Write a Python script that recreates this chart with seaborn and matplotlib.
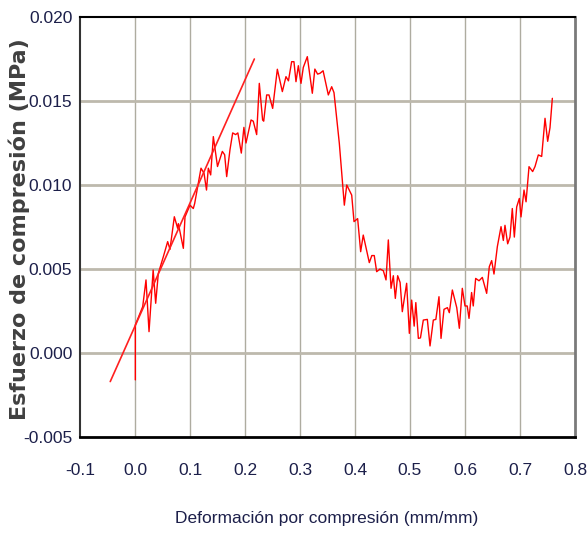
import numpy as np
import pandas as pd
import matplotlib
matplotlib.use("Agg")
import matplotlib.pyplot as plt
import seaborn as sns
from matplotlib.ticker import MultipleLocator, FormatStrFormatter

# --- data ---
strain = [0.0006, 0.0006, 0.014, 0.020, 0.0255, 0.033, 0.0376, 0.0424, 0.0515, 0.0594,
          0.0636, 0.0715, 0.0776, 0.0788, 0.0879, 0.0909, 0.100, 0.106, 0.1085, 0.120,
          0.1255, 0.130, 0.1333, 0.1376, 0.1424, 0.150, 0.1588, 0.163, 0.1667, 0.1727,
          0.1776, 0.183, 0.187, 0.1933, 0.198, 0.2018, 0.211, 0.215, 0.2212, 0.226,
          0.232, 0.234, 0.2394, 0.2436, 0.2503, 0.2588, 0.2679, 0.2745, 0.279, 0.2848,
          0.289, 0.2927, 0.297, 0.3018, 0.306, 0.3133, 0.3224, 0.327, 0.332, 0.3364,
          0.342, 0.3515, 0.3576, 0.3618, 0.3715, 0.3806, 0.385, 0.394, 0.3982, 0.4048,
          0.4103, 0.415, 0.426, 0.4306, 0.435, 0.4394, 0.4455, 0.4515, 0.4564, 0.4606,
          0.4655, 0.4697, 0.4733, 0.4776, 0.482, 0.486, 0.4939, 0.4988, 0.503, 0.5076,
          0.5106, 0.5152, 0.519, 0.5242, 0.5315, 0.5364, 0.5424, 0.547, 0.5527, 0.5564,
          0.5618, 0.568, 0.5715, 0.577, 0.585, 0.5897, 0.5951, 0.600, 0.604, 0.6073,
          0.612, 0.615, 0.6194, 0.6255, 0.6315, 0.6394, 0.6442, 0.6485, 0.6527, 0.6588,
          0.6655, 0.6697, 0.6727, 0.6776, 0.6818, 0.686, 0.6897, 0.694, 0.6988, 0.7018,
          0.7073, 0.711, 0.7164, 0.723, 0.7273, 0.7333, 0.7394, 0.7455, 0.7503, 0.7545,
          0.7588]
stress = [-0.0016, 0.00167, 0.00276, 0.00435, 0.00127, 0.00494, 0.00296, 0.00474, 0.00573, 0.00663,
          0.00617, 0.00811, 0.00742, 0.0077, 0.00623, 0.0081, 0.0088, 0.0086, 0.0089, 0.0110,
          0.0107, 0.0097, 0.0110, 0.0106, 0.01288, 0.0111, 0.0120, 0.0118, 0.0105, 0.0121,
          0.0131, 0.0130, 0.0131, 0.0119, 0.01343, 0.0125, 0.01387, 0.0138, 0.0130, 0.01605,
          0.01387, 0.0138, 0.01536, 0.01536, 0.01456, 0.01689, 0.01556, 0.01645, 0.0162, 0.01734,
          0.01734, 0.01615, 0.0171, 0.01605, 0.0170, 0.01764, 0.01546, 0.0169, 0.0166, 0.01665,
          0.0168, 0.01536, 0.01585, 0.0155, 0.01248, 0.0088, 0.0100, 0.0094, 0.00782, 0.0080,
          0.00603, 0.00702, 0.00538, 0.0058, 0.0058, 0.00484, 0.0050, 0.0049, 0.00435, 0.00673,
          0.00385, 0.0046, 0.00325, 0.0046, 0.0042, 0.00246, 0.00415, 0.00117, 0.00315, 0.0016,
          0.0030, 0.00087, 0.0009, 0.00196, 0.0020, 0.00042, 0.00196, 0.0020, 0.00335, 0.00087,
          0.0026, 0.0027, 0.0024, 0.00375, 0.0027, 0.00147, 0.00385, 0.0028, 0.0028, 0.00206,
          0.0036, 0.0028, 0.00444, 0.0043, 0.0045, 0.00355, 0.00514, 0.0055, 0.0047, 0.00633,
          0.00752, 0.0067, 0.0076, 0.0065, 0.0069, 0.0086, 0.0069, 0.0087, 0.0092, 0.0081,
          0.0097, 0.0090, 0.01109, 0.0108, 0.0111, 0.01179, 0.0117, 0.01397, 0.0126, 0.0134,
          0.01516]
fit_strain = [-0.045, 0.217]
fit_stress = [-0.0017, 0.0175]

x_ticks = [-0.1, 0.0, 0.1, 0.2, 0.3, 0.4, 0.5, 0.6, 0.7, 0.8]
y_ticks = [-0.005, 0.000, 0.005, 0.010, 0.015, 0.020]

sns.set_style("white")
plt.rcParams['font.family'] = ['Liberation Sans', 'DejaVu Sans']

fig = plt.figure(figsize=(5.88, 5.39), dpi=100)
ax = fig.add_axes([80/588, 1 - 437/539, 495/588, 420/539])

df = pd.DataFrame({"x": strain, "y": stress})
dff = pd.DataFrame({"x": fit_strain, "y": fit_stress})
sns.lineplot(data=df, x="x", y="y", sort=False, estimator=None, color="#ff0000",
             lw=1.0, ax=ax, zorder=3)
sns.lineplot(data=dff, x="x", y="y", sort=False, estimator=None, color="#ff2020",
             lw=1.2, ax=ax, zorder=3)

ax.set_xlim(-0.1, 0.8)
ax.set_ylim(-0.005, 0.020)
ax.set_xticks(x_ticks)
ax.set_yticks(y_ticks)
ax.xaxis.set_minor_locator(MultipleLocator(0.05))
ax.yaxis.set_minor_locator(MultipleLocator(0.0025))
ax.xaxis.set_major_formatter(FormatStrFormatter('%.1f'))
ax.yaxis.set_major_formatter(FormatStrFormatter('%.3f'))

for x in x_ticks[1:-1]:
    ax.axvline(x, color="#aeaca0", lw=1.0, zorder=1)
for y in y_ticks[1:-1]:
    ax.axhline(y, color="#bdb9ad", lw=2.0, zorder=1)

tick_color = "#1c1f4a"
ax.tick_params(axis='both', which='both', direction='inout', length=9, width=1.3,
               color='black', labelcolor=tick_color, labelsize=12.5)
ax.tick_params(axis='x', which='major', pad=14)
ax.tick_params(axis='y', which='major', pad=1)
ax.tick_params(axis='both', which='minor', length=8)

ax.spines['top'].set_color('black'); ax.spines['top'].set_linewidth(1.5)
ax.spines['bottom'].set_color('black'); ax.spines['bottom'].set_linewidth(2.0)
ax.spines['left'].set_color('#333333'); ax.spines['left'].set_linewidth(1.5)
ax.spines['right'].set_color('#7a7a7a'); ax.spines['right'].set_linewidth(2.0)

ax.set_xlabel("Deformación por compresión (mm/mm)", fontsize=12.5, color=tick_color)
ax.xaxis.set_label_coords((327 - 80) / 495, -(518 - 437) / 420)
ax.set_ylabel("Esfuerzo de compresión (MPa)", fontsize=16, color="#404040",
              fontweight='bold', family=['DejaVu Sans'])
ax.yaxis.set_label_coords((19 - 80) / 495, (437 - 229) / 420)
ax.yaxis.label.set_va('center')
ax.xaxis.label.set_va('center')

fig.savefig("out.png", dpi=100)
